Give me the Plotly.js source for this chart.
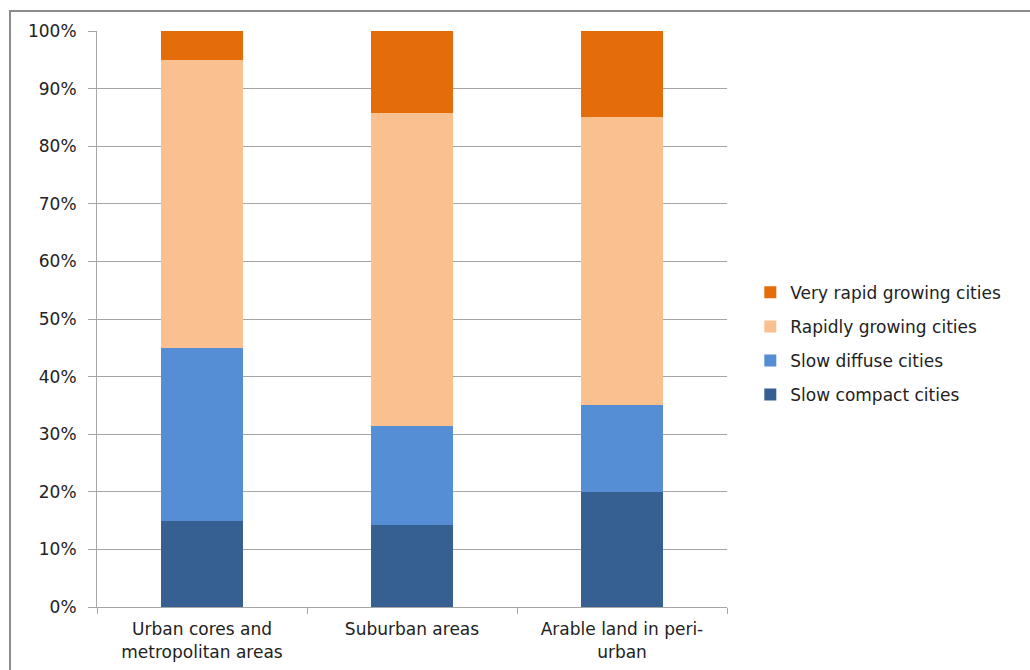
<!DOCTYPE html>
<html><head><meta charset="utf-8">
<script src="https://cdn.plot.ly/plotly-3.0.1.min.js"></script>
<style>
html,body{margin:0;padding:0;background:#fff;}
#chart{width:1030px;height:670px;position:relative;}
#frame{position:absolute;left:9px;top:10px;width:1030px;height:670px;border-left:2px solid #8c8c8c;border-top:2px solid #8c8c8c;pointer-events:none;}
</style></head>
<body>
<div id="chart"></div>
<div id="frame"></div>
<script>
const categories = ["Urban cores and<br>metropolitan areas", "Suburban areas", "Arable land in peri-<br>urban"];
const slowCompact = [15, 14.3, 20];
const slowDiffuse = [30, 17.1, 15];
const rapidlyGrowing = [50, 54.4, 50];
const veryRapid = [5, 14.2, 15];
const seriesNames = ["Slow compact cities", "Slow diffuse cities", "Rapidly growing cities", "Very rapid growing cities"];
const seriesColors = ["#376092", "#558ED5", "#FAC090", "#E46C0A"];
const yTicks = [0,10,20,30,40,50,60,70,80,90,100];
const yTickLabels = yTicks.map(v => v + "%");

const values = [slowCompact, slowDiffuse, rapidlyGrowing, veryRapid];
const traces = values.map((v, i) => ({
  type: "bar", x: categories, y: v, name: seriesNames[i], legendgroup: "g" + i,
  legendrank: 1000 - i,
  marker: {color: seriesColors[i], line: {width: 0}},
  hoverinfo: "name+y"
}));

const font = "DejaVu Sans, Liberation Sans, sans-serif";
const layout = {
  barmode: "stack",
  bargap: 0.61,
  width: 1030, height: 670,
  margin: {l: 97, r: 303, t: 31, b: 63},
  paper_bgcolor: "#ffffff", plot_bgcolor: "#ffffff",
  font: {family: font, size: 17, color: "#222"},
  showlegend: true,
  legend: {x: 1.037, y: 0.457, xanchor: "left", yanchor: "middle", traceorder: "grouped",
           font: {size: 17, color: "#222"}, itemwidth: 30, tracegroupgap: 9},
  xaxis: {type: "category", showline: true, linecolor: "#a6a6a6", linewidth: 1,
          ticks: "outside", ticklen: 6, tickcolor: "#a6a6a6", tickson: "boundaries",
          ticklabelstandoff: 7,
          showgrid: false, tickfont: {size: 17, color: "#222"}, fixedrange: true},
  yaxis: {range: [0, 100], tickvals: yTicks, ticktext: yTickLabels, showline: true,
          linecolor: "#a6a6a6", linewidth: 1, ticks: "outside", ticklen: 8, tickcolor: "#a6a6a6",
          ticklabelstandoff: 8,
          showgrid: true, gridcolor: "#a6a6a6", gridwidth: 1, zeroline: false,
          tickfont: {size: 17, color: "#222"}, fixedrange: true}
};
Plotly.newPlot("chart", traces, layout, {displayModeBar: false, staticPlot: true});
</script>
</body></html>
